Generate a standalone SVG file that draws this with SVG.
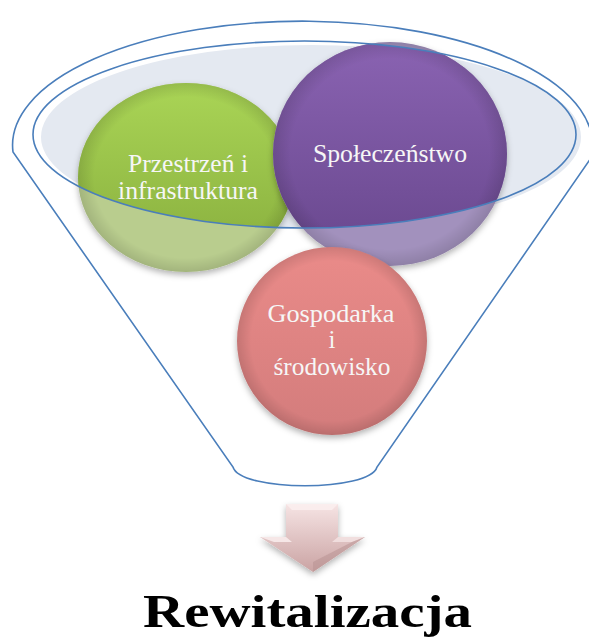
<svg xmlns="http://www.w3.org/2000/svg" width="589" height="643" viewBox="0 0 589 643">
<style>
.lbl{font-family:"Liberation Serif","DejaVu Serif",serif;font-size:25px;fill:#f6f6f6;text-anchor:middle}
.title{font-family:"Liberation Serif","DejaVu Serif",serif;font-size:46px;font-weight:bold;fill:#000;text-anchor:middle}
.line{fill:none;stroke:#4a7ebb;stroke-width:1.6}
</style>
<defs>
<clipPath id="inEll"><ellipse cx="304.5" cy="134.5" rx="271.5" ry="93.5"/></clipPath>
<linearGradient id="gGreen" x1="0" y1="0" x2="0" y2="1"><stop offset="0" stop-color="#aad556"/><stop offset="1" stop-color="#86ac3c"/></linearGradient>
<linearGradient id="gPurple" x1="0" y1="0" x2="0" y2="1"><stop offset="0" stop-color="#8a63b2"/><stop offset="1" stop-color="#67468c"/></linearGradient>
<linearGradient id="gPink" x1="0" y1="0" x2="0" y2="1"><stop offset="0" stop-color="#ea8b89"/><stop offset="1" stop-color="#d37c7c"/></linearGradient>
<linearGradient id="gArrow" x1="0" y1="0" x2="0" y2="1"><stop offset="0" stop-color="#f6e4e4"/><stop offset="1" stop-color="#caa3a3"/></linearGradient>
<radialGradient id="edge" cx="0.5" cy="0.5" r="0.5"><stop offset="0.85" stop-color="#000" stop-opacity="0"/><stop offset="1" stop-color="#000" stop-opacity="0.12"/></radialGradient>
<filter id="sh" x="-20%" y="-20%" width="140%" height="140%"><feDropShadow dx="0" dy="3" stdDeviation="3" flood-color="#000" flood-opacity="0.3"/></filter>
</defs>

<g id="funnel">
<path class="line" d="M13,152 A290,124 0 1 1 591,158 L377,467 C370,492 240,492 233,467 Z"/>
<ellipse cx="311" cy="137" rx="270" ry="92" fill="#e4e9f1"/>
</g>

<g id="node-przestrzen">
<ellipse cx="186" cy="177.5" rx="108" ry="94.5" fill="#b9cd8e" filter="url(#sh)"/>
<ellipse cx="186" cy="177.5" rx="108" ry="94.5" fill="url(#gGreen)" clip-path="url(#inEll)"/>
<ellipse cx="186" cy="177.5" rx="108" ry="94.5" fill="url(#edge)"/>
<text class="lbl" x="188" y="172" textLength="120" lengthAdjust="spacingAndGlyphs">Przestrzeń i</text>
<text class="lbl" x="188" y="199" textLength="140" lengthAdjust="spacingAndGlyphs">infrastruktura</text>
</g>

<g id="node-spoleczenstwo">
<ellipse cx="390" cy="154" rx="117" ry="112" fill="#a291bd" filter="url(#sh)"/>
<ellipse cx="390" cy="154" rx="117" ry="112" fill="url(#gPurple)" clip-path="url(#inEll)"/>
<ellipse cx="390" cy="154" rx="117" ry="112" fill="url(#edge)"/>
<text class="lbl" x="390" y="162" textLength="154" lengthAdjust="spacingAndGlyphs">Społeczeństwo</text>
</g>

<ellipse class="line" cx="304.5" cy="134.5" rx="271.5" ry="93.5"/>

<g id="node-gospodarka">
<ellipse cx="332" cy="341" rx="95" ry="94" fill="url(#gPink)" filter="url(#sh)"/>
<ellipse cx="332" cy="341" rx="95" ry="94" fill="url(#edge)"/>
<text class="lbl" x="331" y="322" textLength="127" lengthAdjust="spacingAndGlyphs">Gospodarka</text>
<text class="lbl" x="332" y="348">i</text>
<text class="lbl" x="332" y="375" textLength="117" lengthAdjust="spacingAndGlyphs">środowisko</text>
</g>

<g id="arrow">
<polygon points="286,504 338,504 338,537 365,537 313,572 260,537 286,537" fill="url(#gArrow)" filter="url(#sh)"/>
<polygon points="286,504 338,504 332,510 292,510" fill="#fbf0f0" opacity="0.8"/>
<polygon points="260,537 286,537 292,542 274,542" fill="#fbf0f0" opacity="0.8"/>
<polygon points="338,537 365,537 352,542 332,542" fill="#fbf0f0" opacity="0.6"/>
<polygon points="365,537 313,572 313,562 352,542" fill="#b58f8f" opacity="0.5"/>
</g>

<g id="title">
<text class="title" x="307.5" y="627" textLength="329" lengthAdjust="spacingAndGlyphs">Rewitalizacja</text>
</g>
</svg>
